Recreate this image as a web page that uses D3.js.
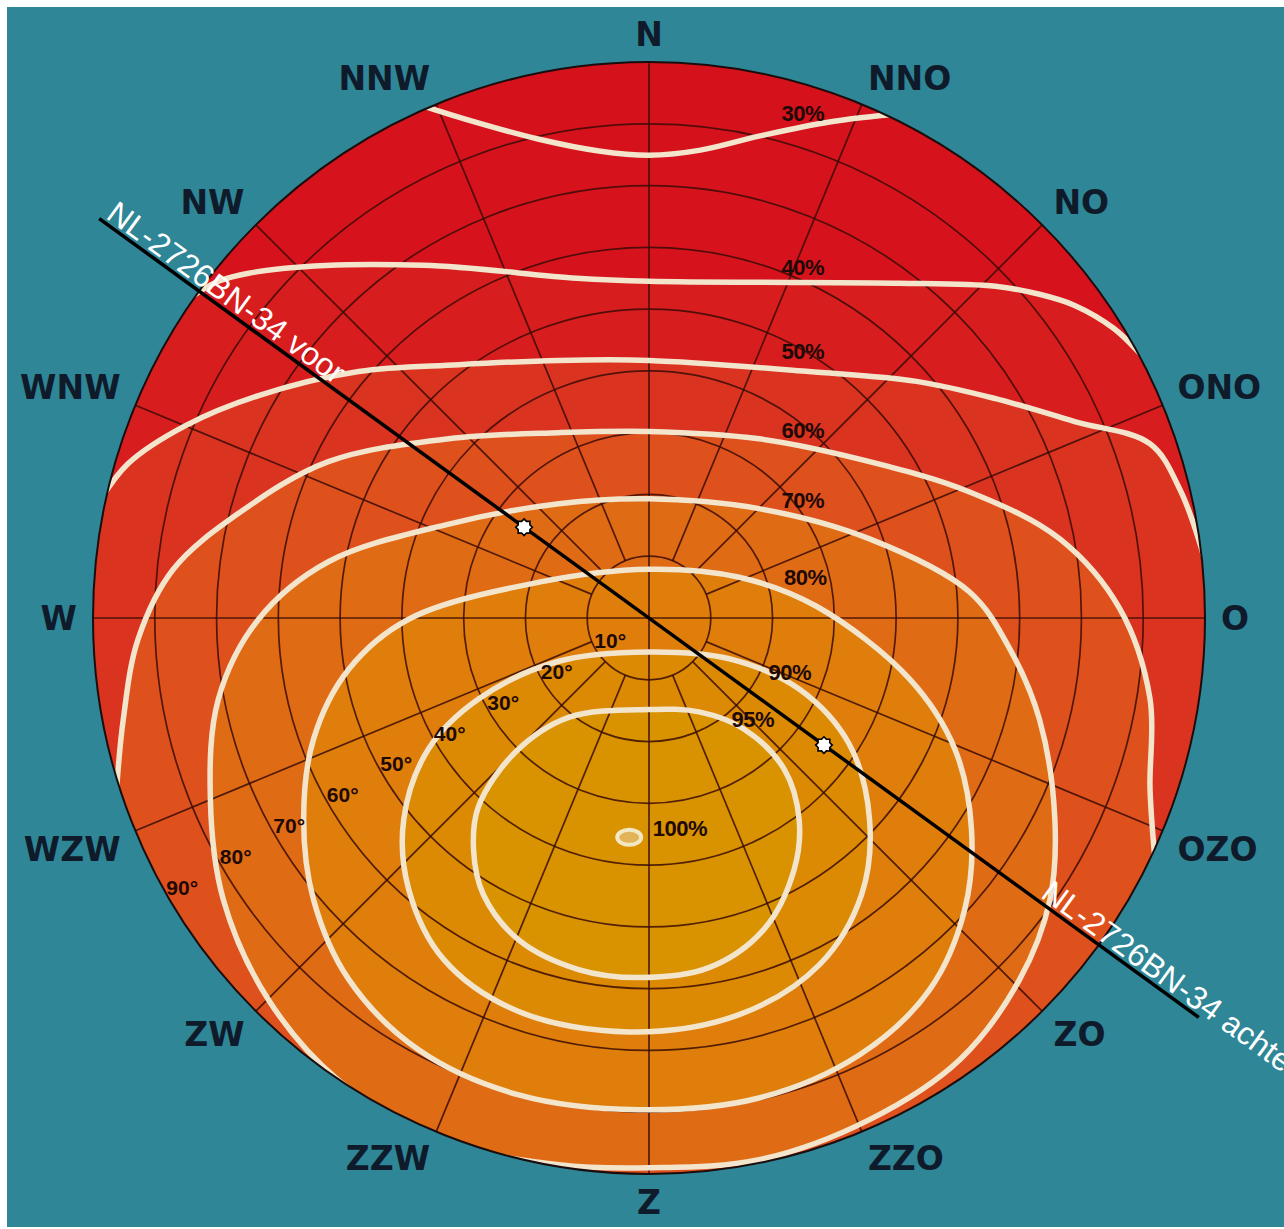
<!DOCTYPE html>
<html>
<head>
<meta charset="utf-8">
<script src="https://cdn.jsdelivr.net/npm/d3@7"></script>
<style>
html,body{margin:0;padding:0;background:#ffffff;}
svg{display:block;}
</style>
</head>
<body>
<svg id="chart" width="1284" height="1229"></svg>
<script>
// ---------- DATA ----------
// compass directions (Dutch), azimuth measured clockwise from north
const compassLabels = ["N","NNO","NO","ONO","O","OZO","ZO","ZZO","Z","ZZW","ZW","WZW","W","WNW","NW","NNW"];
const compassAzimuths = [0,22.5,45,67.5,90,112.5,135,157.5,180,202.5,225,247.5,270,292.5,315,337.5];

// tilt rings (degrees) and their labels
const tiltTicks = [10,20,30,40,50,60,70,80,90];
const tiltTickLabels = ["10°","20°","30°","40°","50°","60°","70°","80°","90°"];
const tiltLabelAzimuth = 240;

// iso-irradiation lines, points as [east, north] in tilt-degrees (zenith = 0,0)
const contourLevels = ["30%","40%","50%","60%","70%","80%","90%","95%"];
const contour30 = [[-38.1,83.4],[-29.2,80.6],[-17.8,77.5],[-8.1,75.6],[0,74.9],[8.1,75.7],[17.8,78.0],[29.2,80.3],[41.4,81.7]];
const contour40 = [[-75.4,50.9],[-69.7,54.5],[-58.9,56.6],[-36.5,57.1],[-11.7,55.0],[0,54.5],[24.3,54.3],[40.5,54.2],[56.1,53.7],[63.2,52.4],[68.9,50.6],[75.2,46.9],[79.5,42.8],[81.9,40.1]];
const contour50 = [[-89.2,18.5],[-84.3,25.0],[-75.1,31.1],[-63.2,36.0],[-47.0,39.9],[-30.8,41.0],[-14.6,41.7],[0,41.7],[25.9,39.9],[43.3,38.3],[56.1,35.5],[68.9,31.8],[81.1,28.2],[85.9,20.9],[89.2,12.0],[90.5,7.1]];
const contour60 = [[-86.3,-29.4],[-85.1,-16.4],[-82.7,-3.4],[-77.0,7.9],[-66.5,16.9],[-51.9,25.3],[-32.4,29.0],[-14.6,30.0],[0,30.2],[17.8,29.0],[35.7,25.3],[51.9,20.4],[66.5,12.8],[76.2,1.5],[81.1,-13.1],[81.1,-27.7],[81.9,-39.1]];
const contour70 = [[0,19.3],[17.8,17.7],[35.7,12.8],[51.9,4.2],[58.4,-5.0],[63.2,-16.4],[65.7,-32.6],[64.9,-45.6],[60.0,-58.5],[50.3,-71.5],[35.7,-81.2],[17.8,-87.7],[0,-89.0],[-14.6,-88.5],[-34.1,-84.5],[-50.3,-74.8],[-61.6,-61.8],[-68.9,-45.6],[-71.0,-29.4],[-69.7,-13.1],[-63.2,-0.2],[-51.9,9.1],[-32.4,15.2],[-14.6,18.5]];
const contour80 = [[0,7.9],[14.6,6.6],[27.1,1.9],[42.2,-9.9],[49.5,-21.2],[52.2,-34.2],[51.1,-47.2],[45.4,-60.2],[34.1,-70.7],[17.8,-77.7],[-1.6,-79.6],[-21.1,-77.2],[-37.3,-69.9],[-48.6,-58.5],[-54.3,-45.6],[-55.9,-32.6],[-54.3,-19.6],[-48.6,-8.3],[-38.9,-0.2],[-17.8,5.8]];
const contour90 = [[0,-5.5],[13.0,-6.6],[24.3,-11.5],[32.4,-20.4],[35.7,-32.6],[34.4,-44.8],[27.6,-56.1],[14.6,-64.2],[-3.2,-67.0],[-21.1,-63.7],[-33.2,-55.3],[-38.9,-43.9],[-39.7,-32.6],[-35.7,-21.2],[-27.6,-13.1],[-14.6,-7.0]];
const contour95 = [[0,-14.8],[8.1,-15.2],[15.4,-18.0],[21.9,-24.5],[24.3,-32.6],[23.5,-40.7],[18.6,-50.4],[9.7,-56.6],[-1.6,-58.2],[-11.4,-56.9],[-21.1,-52.1],[-26.8,-44.8],[-28.4,-37.5],[-27.6,-30.5],[-21.6,-21.7],[-13.0,-16.1]];
const optimumPoint = [-3.2,-35.5];           // 100 %
const optimumLabel = "100%";

// where each level's label sits, [east, north]
const contourLabelAnchors = [[24.9,81.7],[24.9,56.7],[24.9,43.1],[24.9,30.4],[24.9,19.1],[25.3,6.5],[22.8,-8.9],[16.8,-16.5]];
const optimumLabelAnchor = [5.0,-34.0];

// roof faces of the object
const roofNames = ["NL-2726BN-34 voor","NL-2726BN-34 achter"];
const roofAzimuths = [306,126];
const roofTilts = [25,35];

// ---------- DRAWING ----------
const svg = d3.select("#chart");
const W = 1284, H = 1229;
const cx = 649, cy = 618, R = 556;

const x = d3.scaleLinear().domain([-90,90]).range([cx-R, cx+R]);
const y = d3.scaleLinear().domain([90,-90]).range([cy-R, cy+R]);
const rs = d3.scaleLinear().domain([0,90]).range([0,R]);
const rad = d => d*Math.PI/180;
function polar(az, t){ return [x(t*Math.sin(rad(az))), y(t*Math.cos(rad(az)))]; }
const toXY = p => [x(p[0]), y(p[1])];

svg.append("rect").attr("x",0).attr("y",0).attr("width",W).attr("height",H).attr("fill","#ffffff");
svg.append("rect").attr("x",7).attr("y",7).attr("width",W-7).attr("height",H-9).attr("fill","#2e8697");

const defs = svg.append("defs");
defs.append("clipPath").attr("id","disc").append("circle")
  .attr("cx",x(0)).attr("cy",y(0)).attr("r",rs(90));

const g = svg.append("g").attr("clip-path","url(#disc)");

// base colour
g.append("circle").attr("cx",x(0)).attr("cy",y(0)).attr("r",rs(90)).attr("fill","#d5111b");

const openLine = d3.line().x(d=>x(d[0])).y(d=>y(d[1])).curve(d3.curveCatmullRom.alpha(0.5));
const closedLine = d3.line().x(d=>x(d[0])).y(d=>y(d[1])).curve(d3.curveCatmullRomClosed.alpha(0.5));

const contours = [
  {pts:contour30, closed:false, fill:"#d6131c"},
  {pts:contour40, closed:false, fill:"#d81d1e"},
  {pts:contour50, closed:false, fill:"#da3320"},
  {pts:contour60, closed:false, fill:"#de511d"},
  {pts:contour70, closed:true,  fill:"#e06b15"},
  {pts:contour80, closed:true,  fill:"#df7e0b"},
  {pts:contour90, closed:true,  fill:"#dc8a04"},
  {pts:contour95, closed:true,  fill:"#d99300"}
];

function regionPath(c){
  if (c.closed) return closedLine(c.pts);
  const first = c.pts[0], last = c.pts[c.pts.length-1];
  const extra = [[100,last[1]],[100,-100],[-100,-100],[-100,first[1]]];
  return openLine(c.pts) + extra.map(p=>"L"+x(p[0])+","+y(p[1])).join("") + "Z";
}

g.selectAll("path.band").data(contours).join("path")
  .attr("class","band").attr("d",regionPath).attr("fill",d=>d.fill);

// grid: tilt rings
const gridColor = "#3a0c06";
g.selectAll("circle.ring").data(tiltTicks.filter(t=>t<90)).join("circle")
  .attr("class","ring").attr("cx",x(0)).attr("cy",y(0)).attr("r",d=>rs(d))
  .attr("fill","none").attr("stroke",gridColor).attr("stroke-width",1.7).attr("stroke-opacity",0.85);

// grid: azimuth lines
g.selectAll("line.spoke").data(compassAzimuths).join("line")
  .attr("class","spoke")
  .each(function(az){
    const start = (az % 90 === 0) ? 0 : tiltTicks[0];
    const p0 = polar(az,start), p1 = polar(az,92);
    d3.select(this).attr("x1",p0[0]).attr("y1",p0[1]).attr("x2",p1[0]).attr("y2",p1[1]);
  })
  .attr("stroke",gridColor).attr("stroke-width",1.7).attr("stroke-opacity",0.85);

// iso lines
g.selectAll("path.iso").data(contours).join("path")
  .attr("class","iso")
  .attr("d",c=>c.closed ? closedLine(c.pts) : openLine(c.pts))
  .attr("fill","none").attr("stroke","#f3e4cc").attr("stroke-width",5.5);

// 100% optimum
const op = toXY(optimumPoint);
svg.append("ellipse").attr("cx",op[0]).attr("cy",op[1]).attr("rx",12).attr("ry",7.5)
  .attr("fill","#e3b35a").attr("stroke","#f3e8c4").attr("stroke-width",4);

// rim
svg.append("circle").attr("cx",x(0)).attr("cy",y(0)).attr("r",rs(90))
  .attr("fill","none").attr("stroke","#1b0d0d").attr("stroke-width",2);

// tilt labels
svg.selectAll("text.tilt").data(tiltTicks).join("text")
  .attr("class","tilt")
  .attr("x",(t)=>polar(tiltLabelAzimuth,t-2.75)[0])
  .attr("y",(t)=>polar(tiltLabelAzimuth,t-2.75)[1])
  .attr("text-anchor","middle").attr("dominant-baseline","central")
  .attr("font-family","Liberation Sans, Arial, sans-serif").attr("font-weight","bold")
  .attr("font-size",21).attr("fill","#1e0906")
  .text((t,i)=>tiltTickLabels[i]);

// level labels
svg.selectAll("text.level").data(contourLevels).join("text")
  .attr("class","level")
  .attr("x",(d,i)=>x(contourLabelAnchors[i][0]))
  .attr("y",(d,i)=>y(contourLabelAnchors[i][1]))
  .attr("text-anchor","middle").attr("dominant-baseline","central")
  .attr("font-family","Liberation Sans, Arial, sans-serif").attr("font-weight","bold")
  .attr("font-size",22).attr("fill","#1e0906").attr("letter-spacing",-0.5)
  .text(d=>d);
svg.append("text")
  .attr("x",x(optimumLabelAnchor[0])).attr("y",y(optimumLabelAnchor[1]))
  .attr("text-anchor","middle").attr("dominant-baseline","central")
  .attr("font-family","Liberation Sans, Arial, sans-serif").attr("font-weight","bold")
  .attr("font-size",22).attr("fill","#1e0906").attr("letter-spacing",-0.5)
  .text(optimumLabel);

// compass labels: nearest corner of the label box on the direction ray
const capH = 24;
svg.selectAll("text.compass").data(compassLabels).join("text")
  .attr("class","compass")
  .each(function(lbl,i){
    const az = compassAzimuths[i];
    const s = Math.sin(rad(az)), c = Math.cos(rad(az));
    const p = polar(az, 90*(R+16)/R);
    const anchor = s > 0.1 ? "start" : (s < -0.1 ? "end" : "middle");
    const yy = c > 0.1 ? p[1] : (c < -0.1 ? p[1]+capH : p[1]+capH/2);
    d3.select(this).attr("x",p[0]).attr("y",yy).attr("text-anchor",anchor);
  })
  .attr("font-family","DejaVu Sans, Verdana, sans-serif").attr("font-weight","bold")
  .attr("font-size",33).attr("fill","#0f1b2a")
  .text(d=>d);

// roof line through zenith
const lineEnd = 110;
const pA = polar(roofAzimuths[0], lineEnd), pB = polar(roofAzimuths[1], lineEnd);
svg.append("line").attr("x1",pA[0]).attr("y1",pA[1]).attr("x2",pB[0]).attr("y2",pB[1])
  .attr("stroke","#000").attr("stroke-width",3.5);

const angleDeg = Math.atan2(pB[1]-pA[1], pB[0]-pA[0])*180/Math.PI;
// labels along the line
const labelStarts = [polar(roofAzimuths[0], lineEnd), polar(roofAzimuths[1], 77)];
svg.selectAll("text.roof").data(roofNames).join("text")
  .attr("class","roof")
  .attr("transform",(d,i)=>`translate(${labelStarts[i][0]},${labelStarts[i][1]}) rotate(${angleDeg})`)
  .attr("x",4).attr("y",-4)
  .attr("font-family","Liberation Sans, Arial, sans-serif")
  .attr("font-size",32).attr("fill","#ffffff")
  .text(d=>d);

// markers
const star = d3.lineRadial().curve(d3.curveLinearClosed)
  .angle((d,i)=>i*Math.PI/8).radius((d,i)=> i%2 ? 6.3 : 8.3);
svg.selectAll("path.marker").data(roofNames).join("path")
  .attr("class","marker")
  .attr("transform",(d,i)=>{const p = polar(roofAzimuths[i], roofTilts[i]); return `translate(${p[0]},${p[1]})`;})
  .attr("d",star(d3.range(16)))
  .attr("fill","#ffffff").attr("stroke","#000").attr("stroke-width",1.6);
</script>
</body>
</html>
